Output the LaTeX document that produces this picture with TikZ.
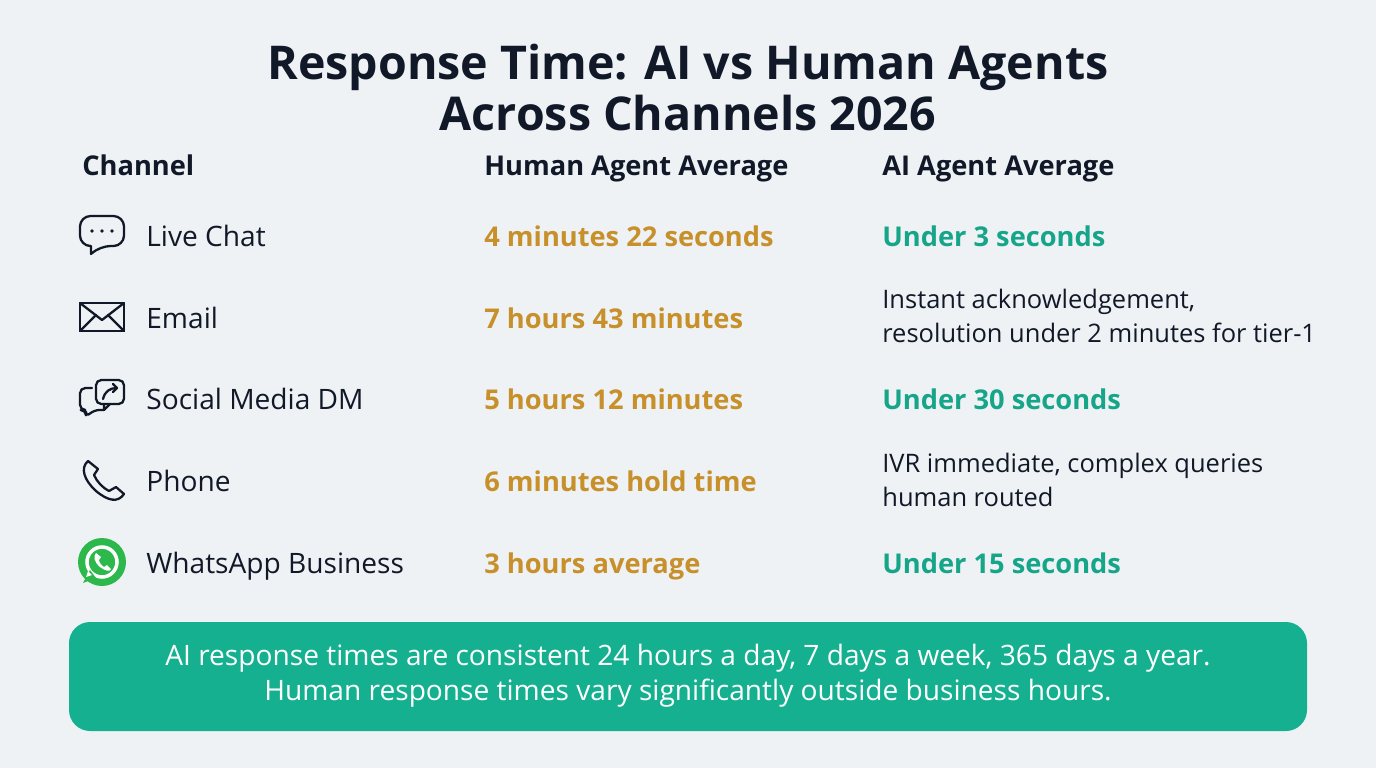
\documentclass[tikz,border=0pt]{standalone}
\usepackage{fontspec}
\setmainfont{Open Sans}[BoldFont={* Bold}]
\definecolor{bgc}{HTML}{EEF2F5}
\definecolor{inkc}{HTML}{111827}
\definecolor{humanc}{HTML}{C8902A}
\definecolor{aic}{HTML}{17A589}
\definecolor{bannerc}{HTML}{14B08F}
\definecolor{wac}{HTML}{2DB84C}
\begin{document}
\begin{tikzpicture}[
	x=0.02cm, y=-0.02cm,
	head/.style={anchor=base west, font=\fontsize{15.5}{18}\selectfont\bfseries, text=inkc, inner sep=0pt},
	chan/.style={anchor=base west, font=\fontsize{16}{18}\selectfont, text=inkc, inner sep=0pt},
	human/.style={anchor=base west, font=\fontsize{15.5}{18}\selectfont\bfseries, text=humanc, inner sep=0pt},
	ai/.style={anchor=base west, font=\fontsize{15.5}{18}\selectfont\bfseries, text=aic, inner sep=0pt},
	aitwo/.style={anchor=west, align=left, font=\fontsize{14.5}{19}\selectfont, text=inkc, inner sep=0pt},
	icon/.style={draw=inkc, line width=1.3pt, line join=round, line cap=round}
	]
	% background
	\fill[bgc] (0,0) rectangle (1376,768);
	
	% title
	\node[align=center, font=\fontsize{26.5}{29}\selectfont\bfseries, text=inkc] (title) at (688,88)
		{Response Time: AI vs Human Agents\\Across Channels 2026};
	
	% column heads
	\node[head] (hchan) at (82,175) {Channel};
	\node[head] (hhum) at (484,175) {Human Agent Average};
	\node[head] (hai) at (882,175) {AI Agent Average};
	
	% rows
	\node[chan] (c1) at (146,246) {Live Chat};
	\node[chan] (c2) at (146,328) {Email};
	\node[chan] (c3) at (146,409) {Social Media DM};
	\node[chan] (c4) at (146,491) {Phone};
	\node[chan] (c5) at (146,573) {WhatsApp Business};
	
	\node[human] (h1) at (484,246) {4 minutes 22 seconds};
	\node[human] (h2) at (484,328) {7 hours 43 minutes};
	\node[human] (h3) at (484,409) {5 hours 12 minutes};
	\node[human] (h4) at (484,491) {6 minutes hold time};
	\node[human] (h5) at (484,573) {3 hours average};
	
	\node[ai] (a1) at (882,246) {Under 3 seconds};
	\node[aitwo] (a2) at (882,316) {Instant acknowledgement,\\resolution under 2 minutes for tier-1};
	\node[ai] (a3) at (882,409) {Under 30 seconds};
	\node[aitwo] (a4) at (882,480) {IVR immediate, complex queries\\human routed};
	\node[ai] (a5) at (882,573) {Under 15 seconds};
	
	% icons
	\draw[icon, rounded corners=6] (80,216) -- (124,216) -- (124,246) -- (100,246) [sharp corners] -- (91,254) -- (91,246) [rounded corners=6] -- (80,246) -- cycle;
	\foreach \dx in {92,102,112} \fill[inkc] (\dx,231) circle (1.8);
	
	\draw[icon] (80,303) rectangle (124,331);
	\draw[icon] (80,303) -- (102,320) -- (124,303);
	\draw[icon] (80,331) -- (96,315);
	\draw[icon] (124,331) -- (108,315);
	
	\draw[icon, rounded corners=3] (96,380) rectangle (124,404);
	\draw[icon] (104,404) -- (104,410) -- (110,404);
	\draw[icon, rounded corners=3] (92,388) -- (80,388) -- (80,410) -- (86,410) -- (86,417) -- (94,410) -- (104,410);
	\draw[icon] (103,399) .. controls (105,391) and (110,388) .. (117,388);
	\draw[icon] (113,384) -- (117,388) -- (113,392);
	
	\draw[icon] (88,461) .. controls (80,468) and (84,480) .. (96,491)
		.. controls (108,501) and (118,503) .. (124,494) -- (116,487) -- (109,491)
		.. controls (103,488) and (97,482) .. (94,475) -- (98,469) -- cycle;
	
	\fill[wac] (102,562) circle (24);
	\draw[white, line width=2pt] (102,562) circle (15);
	\fill[wac] (83,583) -- (90,570) -- (96,578) -- cycle;
	\fill[white] (86,577) -- (88,571) -- (92,575) -- cycle;
	\fill[white] (96,553) .. controls (93,556) and (94,562) .. (100,567)
		.. controls (105,571) and (110,572) .. (111,569) -- (107,565) -- (104,567)
		.. controls (101,565) and (99,562) .. (99,560) -- (101,557) -- cycle;
	
	% banner
	\fill[bannerc, rounded corners=12] (69,622) rectangle (1307,731);
	\node[align=center, text=white, font=\fontsize{16}{20}\selectfont] (note) at (688,676)
		{AI response times are consistent 24 hours a day, 7 days a week, 365 days a year.\\Human response times vary significantly outside business hours.};
\end{tikzpicture}
\end{document}
